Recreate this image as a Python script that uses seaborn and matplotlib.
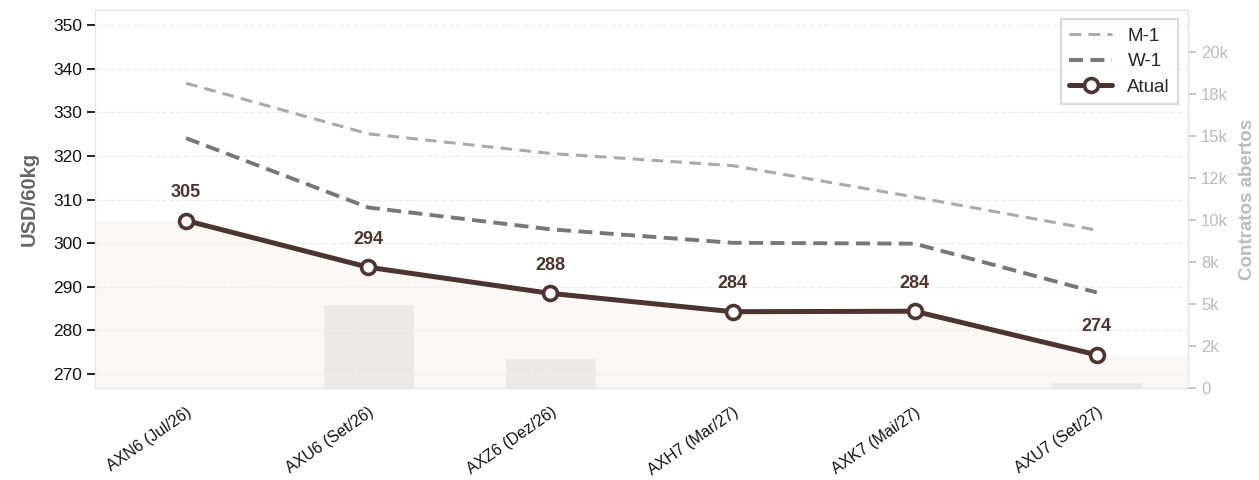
import numpy as np
import pandas as pd
import matplotlib
matplotlib.use("Agg")
import matplotlib.pyplot as plt
import seaborn as sns

contratos = ["AXN6 (Jul/26)", "AXU6 (Set/26)", "AXZ6 (Dez/26)",
             "AXH7 (Mar/27)", "AXK7 (Mai/27)", "AXU7 (Set/27)"]
atual = [305.2, 294.5, 288.5, 284.3, 284.4, 274.4]
m1 = [336.7, 325.1, 320.6, 317.8, 310.6, 303.0]
w1 = [324.1, 308.2, 303.2, 300.1, 299.9, 288.7]
open_int = [80, 5000, 1800, 0, 0, 350]

sns.set_style("white")
plt.rcParams['font.family'] = ['Liberation Sans', 'DejaVu Sans']

brown = '#4e342e'
pos = np.arange(len(contratos))

fig = plt.figure(figsize=(12.59, 4.80), dpi=100)
ax = fig.add_axes([0.0755, 0.1917, 0.868, 0.7875])
ax2 = ax.twinx()
ax.set_zorder(ax2.get_zorder() + 1)
ax.patch.set_visible(False)

# contratos abertos (barras ao fundo)
df_oi = pd.DataFrame({"contrato": contratos, "oi": open_int})
sns.barplot(data=df_oi, x="contrato", y="oi", ax=ax2, color='#e4e4e4',
            width=0.5, saturation=1)
ax2.set_ylim(0, 22500)
ax2.set_yticks(np.arange(0, 22500, 2500))
ax2.set_yticklabels([f"{v/1000:.0f}k" if v else "0" for v in np.arange(0, 22500, 2500)])
ax2.tick_params(axis='y', colors='#bbbbbb', labelsize=12, length=6, width=1.2)
ax2.set_ylabel("Contratos abertos", color='#bbbbbb', fontsize=13.5,
               fontweight='bold', labelpad=8)
for s in ax2.spines.values():
    s.set_color('#e2e2e2')

# area sob a curva atual
xf = np.r_[pos[0] - 0.5, pos, pos[-1] + 0.5]
yf = np.r_[atual[0], atual, atual[-1]]
ax.fill_between(xf, 260, yf, color='#f2f0ec', alpha=0.45, lw=0, zorder=1)

df = pd.DataFrame({"pos": pos, "atual": atual, "m1": m1, "w1": w1})
sns.lineplot(data=df, x="pos", y="m1", ax=ax, color='#aaaaaa', lw=2.2,
             linestyle=(0, (3.8, 2.4)), label="M-1", zorder=3)
sns.lineplot(data=df, x="pos", y="w1", ax=ax, color='#777777', lw=2.8,
             linestyle=(0, (3.6, 1.9)), label="W-1", zorder=3)
sns.lineplot(data=df, x="pos", y="atual", ax=ax, color=brown, lw=3.6,
             marker='o', markersize=10, markerfacecolor='white',
             markeredgecolor=brown, markeredgewidth=2.6, label="Atual", zorder=4)

for x, y in zip(pos, atual):
    ax.annotate(f"{y:.0f}", (x, y), xytext=(0, 14), textcoords='offset points',
                ha='center', va='bottom', fontsize=13, fontweight='bold',
                color=brown)

ax.set_xlim(-0.5, len(contratos) - 0.5)
ax.set_ylim(266.8, 353.5)
ax.set_yticks(np.arange(270, 351, 10))
ax.set_xticks(pos)
ax.set_xticklabels(contratos, rotation=35, ha='right', rotation_mode='anchor',
                   fontsize=11.5)
ax.tick_params(axis='both', colors='#111111', labelsize=12.5, length=6, width=1.3)
ax.tick_params(axis='x', labelsize=11.5, pad=6)
ax.set_xlabel("")
ax.set_ylabel("USD/60kg", color='#666666', fontsize=14.5, fontweight='bold',
              labelpad=10)
ax.grid(axis='y', color='#eeeeee', linestyle='--', lw=1)
ax.grid(axis='x', visible=False)
for s in ax.spines.values():
    s.set_color('#e2e2e2')
ax2.set_xlabel("")

leg = ax.legend(loc='upper right', fontsize=13.5, frameon=True, fancybox=False,
                edgecolor='#d0d0d0', borderpad=0.45, handlelength=2.3,
                labelspacing=0.45)
leg.get_frame().set_linewidth(1.5)

fig.savefig("out.png", dpi=100)
